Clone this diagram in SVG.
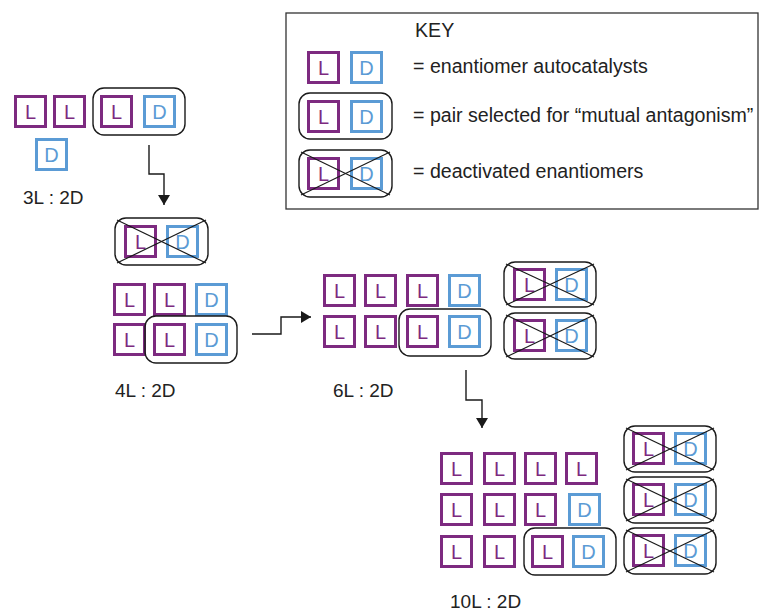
<svg xmlns="http://www.w3.org/2000/svg" width="759" height="613" viewBox="0 0 759 613">
<defs>
<style>
.bl{fill:#fff;stroke:#7d2a80;stroke-width:3}
.bd{fill:#fff;stroke:#5b9bd5;stroke-width:3}
.tl{font-family:"Liberation Sans",Arial,sans-serif;font-size:20px;fill:#7d2a80;text-anchor:middle}
.td{font-family:"Liberation Sans",Arial,sans-serif;font-size:20px;fill:#5b9bd5;text-anchor:middle}
.pair{fill:none;stroke:#1a1a1a;stroke-width:1.4}
.x{stroke:#1a1a1a;stroke-width:1.2}
.lab{font-family:"Liberation Sans",Arial,sans-serif;font-size:19px;fill:#222}
.kt{font-family:"Liberation Sans",Arial,sans-serif;font-size:19.6px;fill:#222}
.conn{fill:none;stroke:#1a1a1a;stroke-width:1.4}
</style>
<marker id="ah" viewBox="0 0 10 12" refX="10" refY="6" markerWidth="11" markerHeight="12" markerUnits="userSpaceOnUse" orient="auto">
<path d="M0,0 L10,6 L0,12 z" fill="#1a1a1a"/>
</marker>
</defs>
<rect x="0" y="0" width="759" height="613" fill="#fff"/>

<g id="key">
<rect x="286" y="13" width="472" height="196" fill="none" stroke="#333" stroke-width="1.3"/>
<text class="kt" x="415" y="37">KEY</text>
<rect class="bl" x="308.5" y="52.5" width="30" height="30"/><text class="tl" x="323.5" y="75">L</text>
<rect class="bd" x="351.5" y="52.5" width="30" height="30"/><text class="td" x="366.5" y="75">D</text>
<text class="kt" x="413" y="73">= enantiomer autocatalysts</text>
<rect class="pair" x="299" y="93" width="93" height="46" rx="11"/>
<rect class="bl" x="308.5" y="101.5" width="30" height="30"/><text class="tl" x="323.5" y="124">L</text>
<rect class="bd" x="351.5" y="101.5" width="30" height="30"/><text class="td" x="366.5" y="124">D</text>
<text class="kt" x="413" y="122">= pair selected for “mutual antagonism”</text>
<rect class="bl" x="308.5" y="158.5" width="30" height="30"/><text class="tl" x="323.5" y="181">L</text>
<rect class="bd" x="351.5" y="158.5" width="30" height="30"/><text class="td" x="366.5" y="181">D</text>
<rect class="pair" x="299" y="150" width="93" height="47" rx="11"/>
<line class="x" x1="301" y1="152" x2="390" y2="195"/><line class="x" x1="301" y1="195" x2="390" y2="152"/>
<text class="kt" x="413" y="178">= deactivated enantiomers</text>
</g>

<g id="stage1">
<rect class="bl" x="15.5" y="96.5" width="30" height="30"/><text class="tl" x="30.5" y="119">L</text>
<rect class="bl" x="54.5" y="96.5" width="30" height="30"/><text class="tl" x="69.5" y="119">L</text>
<rect class="bd" x="36.5" y="139.5" width="30" height="30"/><text class="td" x="51.5" y="162">D</text>
<rect class="pair" x="93" y="88" width="92" height="47" rx="11"/>
<rect class="bl" x="101.5" y="96.5" width="30" height="30"/><text class="tl" x="116.5" y="119">L</text>
<rect class="bd" x="144.5" y="96.5" width="30" height="30"/><text class="td" x="159.5" y="119">D</text>
<text class="lab" x="23" y="204">3L : 2D</text>
</g>

<g id="stage2">
<rect class="bl" x="125.5" y="226.5" width="30" height="30"/><text class="tl" x="140.5" y="249">L</text>
<rect class="bd" x="167.5" y="226.5" width="30" height="30"/><text class="td" x="182.5" y="249">D</text>
<rect class="pair" x="115" y="218" width="93" height="47" rx="11"/>
<line class="x" x1="117" y1="220" x2="206" y2="263"/><line class="x" x1="117" y1="263" x2="206" y2="220"/>
<rect class="bl" x="114.5" y="284.5" width="30" height="30"/><text class="tl" x="129.5" y="307">L</text>
<rect class="bl" x="154.5" y="284.5" width="30" height="30"/><text class="tl" x="169.5" y="307">L</text>
<rect class="bd" x="196.5" y="284.5" width="30" height="30"/><text class="td" x="211.5" y="307">D</text>
<rect class="bl" x="114.5" y="324.5" width="30" height="30"/><text class="tl" x="129.5" y="347">L</text>
<rect class="bl" x="154.5" y="324.5" width="30" height="30"/><text class="tl" x="169.5" y="347">L</text>
<rect class="bd" x="196.5" y="324.5" width="30" height="30"/><text class="td" x="211.5" y="347">D</text>
<rect class="pair" x="145" y="316" width="92" height="47" rx="11"/>
<text class="lab" x="115" y="397">4L : 2D</text>
</g>

<g id="stage3">
<rect class="bl" x="324.5" y="275.5" width="30" height="30"/><text class="tl" x="339.5" y="298">L</text>
<rect class="bl" x="365.5" y="275.5" width="30" height="30"/><text class="tl" x="380.5" y="298">L</text>
<rect class="bl" x="407.5" y="275.5" width="30" height="30"/><text class="tl" x="422.5" y="298">L</text>
<rect class="bd" x="449.5" y="275.5" width="30" height="30"/><text class="td" x="464.5" y="298">D</text>
<rect class="bl" x="324.5" y="316.5" width="30" height="30"/><text class="tl" x="339.5" y="339">L</text>
<rect class="bl" x="365.5" y="316.5" width="30" height="30"/><text class="tl" x="380.5" y="339">L</text>
<rect class="bl" x="407.5" y="316.5" width="30" height="30"/><text class="tl" x="422.5" y="339">L</text>
<rect class="bd" x="449.5" y="316.5" width="30" height="30"/><text class="td" x="464.5" y="339">D</text>
<rect class="pair" x="399" y="309" width="92" height="47" rx="11"/>
<rect class="bl" x="514.5" y="269.5" width="30" height="30"/><text class="tl" x="529.5" y="292">L</text>
<rect class="bd" x="556.5" y="269.5" width="30" height="30"/><text class="td" x="571.5" y="292">D</text>
<rect class="pair" x="504" y="262" width="92" height="45" rx="11"/>
<line class="x" x1="506" y1="264" x2="594" y2="305"/><line class="x" x1="506" y1="305" x2="594" y2="264"/>
<rect class="bl" x="514.5" y="320.5" width="30" height="30"/><text class="tl" x="529.5" y="343">L</text>
<rect class="bd" x="556.5" y="320.5" width="30" height="30"/><text class="td" x="571.5" y="343">D</text>
<rect class="pair" x="504" y="313" width="92" height="46" rx="11"/>
<line class="x" x1="506" y1="315" x2="594" y2="357"/><line class="x" x1="506" y1="357" x2="594" y2="315"/>
<text class="lab" x="333" y="397">6L : 2D</text>
</g>

<g id="stage4">
<rect class="bl" x="441.5" y="453.5" width="30" height="30"/><text class="tl" x="456.5" y="476">L</text>
<rect class="bl" x="484.5" y="453.5" width="30" height="30"/><text class="tl" x="499.5" y="476">L</text>
<rect class="bl" x="525.5" y="453.5" width="30" height="30"/><text class="tl" x="540.5" y="476">L</text>
<rect class="bl" x="566.5" y="453.5" width="30" height="30"/><text class="tl" x="581.5" y="476">L</text>
<rect class="bl" x="441.5" y="494.5" width="30" height="30"/><text class="tl" x="456.5" y="517">L</text>
<rect class="bl" x="484.5" y="494.5" width="30" height="30"/><text class="tl" x="499.5" y="517">L</text>
<rect class="bl" x="525.5" y="494.5" width="30" height="30"/><text class="tl" x="540.5" y="517">L</text>
<rect class="bd" x="569.5" y="494.5" width="30" height="30"/><text class="td" x="584.5" y="517">D</text>
<rect class="bl" x="441.5" y="536.5" width="30" height="30"/><text class="tl" x="456.5" y="559">L</text>
<rect class="bl" x="484.5" y="536.5" width="30" height="30"/><text class="tl" x="499.5" y="559">L</text>
<rect class="bl" x="532.5" y="536.5" width="30" height="30"/><text class="tl" x="547.5" y="559">L</text>
<rect class="bd" x="573.5" y="536.5" width="30" height="30"/><text class="td" x="588.5" y="559">D</text>
<rect class="pair" x="524" y="528" width="92" height="47" rx="11"/>
<rect class="bl" x="633.5" y="433.5" width="30" height="30"/><text class="tl" x="648.5" y="456">L</text>
<rect class="bd" x="675.5" y="433.5" width="30" height="30"/><text class="td" x="690.5" y="456">D</text>
<rect class="pair" x="624" y="426" width="92" height="46" rx="11"/>
<line class="x" x1="626" y1="428" x2="714" y2="470"/><line class="x" x1="626" y1="470" x2="714" y2="428"/>
<rect class="bl" x="633.5" y="484.5" width="30" height="30"/><text class="tl" x="648.5" y="507">L</text>
<rect class="bd" x="675.5" y="484.5" width="30" height="30"/><text class="td" x="690.5" y="507">D</text>
<rect class="pair" x="624" y="477" width="92" height="46" rx="11"/>
<line class="x" x1="626" y1="479" x2="714" y2="521"/><line class="x" x1="626" y1="521" x2="714" y2="479"/>
<rect class="bl" x="633.5" y="535.5" width="30" height="30"/><text class="tl" x="648.5" y="558">L</text>
<rect class="bd" x="675.5" y="535.5" width="30" height="30"/><text class="td" x="690.5" y="558">D</text>
<rect class="pair" x="624" y="528" width="92" height="46" rx="11"/>
<line class="x" x1="626" y1="530" x2="714" y2="572"/><line class="x" x1="626" y1="572" x2="714" y2="530"/>
<text class="lab" x="450" y="608">10L : 2D</text>
</g>

<g id="connectors">
<path class="conn" d="M149,145 V174 H164 V205" marker-end="url(#ah)"/>
<path class="conn" d="M252,334 H281 V317 H311" marker-end="url(#ah)"/>
<path class="conn" d="M466,370 V400 H482 V428" marker-end="url(#ah)"/>
</g>
</svg>
